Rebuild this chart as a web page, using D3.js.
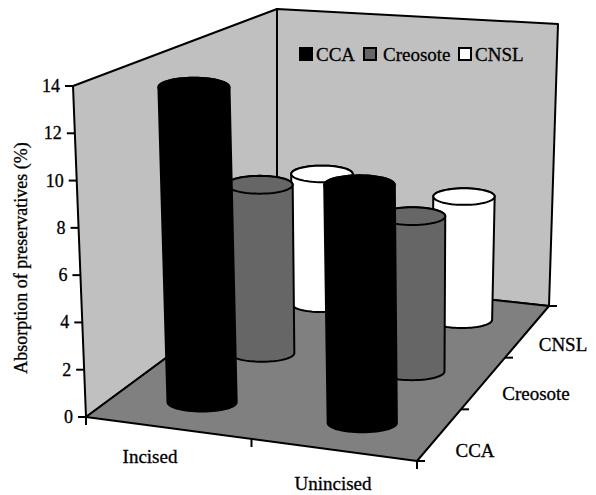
<!DOCTYPE html>
<html>
<head>
<meta charset="utf-8">
<script src="https://cdn.jsdelivr.net/npm/d3@7"></script>
<style>
  html, body { margin: 0; padding: 0; background: #fff; }
  text { font-family: "Liberation Serif", serif; font-size: 19px; fill: #000; stroke: #000; stroke-width: 0.3px; }
</style>
</head>
<body>
<div id="chart"></div>
<script>
const groups = ["Incised", "Unincised"];
const seriesNames = ["CCA", "Creosote", "CNSL"];
const seriesColors = ["#000000", "#666666", "#ffffff"];
const cca = [13.6, 10.0];
const creosote = [7.8, 7.0];
const cnsl = [6.5, 6.0];
const seriesValues = [cca, creosote, cnsl];
const valueTicks = [0, 2, 4, 6, 8, 10, 12, 14];

const w = 596;
const h = 495;

// where the corners of the 3d box land on the page
const floorFL = [86, 417], floorFR = [417, 461], floorBR = [549, 306], floorBL = [277, 276];
const topFL = [73, 86], topFR = [413, 111], topBR = [558, 24], topBL = [277, 9];

function quadMap(p00, p10, p11, p01) {
  const front = d3.interpolate(p00, p10);
  const back = d3.interpolate(p01, p11);
  return (u, v) => d3.interpolate(front(u), back(u))(v);
}

const floorMap = quadMap(floorFL, floorFR, floorBR, floorBL);
const topMap = quadMap(topFL, topFR, topBR, topBL);

const xScale = d3.scaleBand().domain(groups).range([0.005, 1.005]);
const zScale = d3.scaleBand().domain(seriesNames).range([0.01, 1.03]);
const yScale = d3.scaleLinear().domain([0, 14]).range([0, 1]);

function project(u, v, value) {
  const a = floorMap(u, v), b = topMap(u, v), t = yScale(value);
  return [a[0] + (b[0] - a[0]) * t, a[1] + (b[1] - a[1]) * t];
}

const radiusShare = 0.108;
const squash = 0.27;
const angles = d3.range(0, 2 * Math.PI, Math.PI / 30);

const svg = d3.select("#chart").append("svg")
  .attr("width", w)
  .attr("height", h)
  .attr("viewBox", [0, 0, w, h])
  .style("display", "block");

const poly = d3.line().curve(d3.curveLinearClosed);

// walls and floor
function face(corners, fill) {
  svg.append("path")
    .attr("d", poly(corners.map(d => project(d[0], d[1], d[2]))))
    .attr("fill", fill).attr("stroke", "#000").attr("stroke-width", 2).attr("stroke-linejoin", "round");
}
face([[0, 0, 0], [0, 1, 0], [0, 1, 14], [0, 0, 14]], "#c0c0c0");
face([[0, 1, 0], [1, 1, 0], [1, 1, 14], [0, 1, 14]], "#c0c0c0");
face([[0, 0, 0], [1, 0, 0], [1, 1, 0], [0, 1, 0]], "#808080");

// value ticks on the left wall
const yAxis = svg.append("g");
valueTicks.forEach(t => {
  const p = project(0, 0, t);
  yAxis.append("line")
    .attr("x1", p[0] - 8).attr("x2", p[0]).attr("y1", p[1]).attr("y2", p[1])
    .attr("stroke", "#000").attr("stroke-width", 2);
  yAxis.append("text")
    .attr("x", p[0] - 13).attr("y", p[1] + 6)
    .attr("text-anchor", "end")
    .style("font-size", "18px")
    .text(t);
});

// front edge ticks
[0, 0.5, 1].forEach(u => {
  const p = project(u, 0, 0);
  svg.append("line")
    .attr("x1", p[0]).attr("x2", p[0]).attr("y1", p[1]).attr("y2", p[1] + 8)
    .attr("stroke", "#000").attr("stroke-width", 2);
});

// side edge ticks
[0, 1 / 3, 2 / 3, 1].forEach(v => {
  const p = project(1, v, 0);
  svg.append("line")
    .attr("x1", p[0]).attr("x2", p[0] + 8).attr("y1", p[1]).attr("y2", p[1])
    .attr("stroke", "#000").attr("stroke-width", 2);
});

// cylinders, back row first
const bars = [];
seriesNames.forEach((s, si) => {
  groups.forEach((g, gi) => {
    bars.push({ group: g, series: s, value: seriesValues[si][gi], color: seriesColors[si], si: si, gi: gi });
  });
});
bars.sort((a, b) => (b.si - a.si) || (a.gi - b.gi));

bars.forEach(d => {
  const cu = xScale(d.group) + xScale.bandwidth() / 2;
  const cv = zScale(d.series) + zScale.bandwidth() / 2;
  const ring = value => {
    const c = project(cu, cv, value);
    const rx = radiusShare * (project(1, cv, value)[0] - project(0, cv, value)[0]);
    return angles.map(a => [c[0] + rx * Math.cos(a), c[1] + rx * squash * Math.sin(a)]);
  };
  const base = ring(0);
  const cap = ring(d.value);
  svg.append("path")
    .attr("d", poly(d3.polygonHull(base.concat(cap))))
    .attr("fill", d.color).attr("stroke", "#000").attr("stroke-width", 2).attr("stroke-linejoin", "round");
  svg.append("path")
    .attr("d", poly(cap))
    .attr("fill", d.color).attr("stroke", "#000").attr("stroke-width", 2);
});

// axis labels
const groupLabelX = [150, 333];
const groupLabelY = [463, 490];
groups.forEach((g, i) => {
  svg.append("text")
    .attr("x", groupLabelX[i]).attr("y", groupLabelY[i])
    .attr("text-anchor", "middle")
    .text(g);
});

const seriesLabelX = [475, 536, 563];
const seriesLabelY = [457, 400, 351];
seriesNames.forEach((s, i) => {
  svg.append("text")
    .attr("x", seriesLabelX[i]).attr("y", seriesLabelY[i])
    .attr("text-anchor", "middle")
    .text(s);
});

svg.append("text")
  .attr("transform", "translate(27,258) rotate(-90)")
  .attr("text-anchor", "middle")
  .style("font-size", "18px")
  .text("Absorption of preservatives (%)");

// legend
const legendX = [300, 364, 459];
const legendLabelX = [316, 383, 475];
const legend = svg.append("g");
seriesNames.forEach((s, i) => {
  legend.append("rect")
    .attr("x", legendX[i]).attr("y", 48).attr("width", 12).attr("height", 12)
    .attr("fill", seriesColors[i]).attr("stroke", "#000").attr("stroke-width", 2);
  legend.append("text")
    .attr("x", legendLabelX[i]).attr("y", 61)
    .text(s);
});
</script>
</body>
</html>
